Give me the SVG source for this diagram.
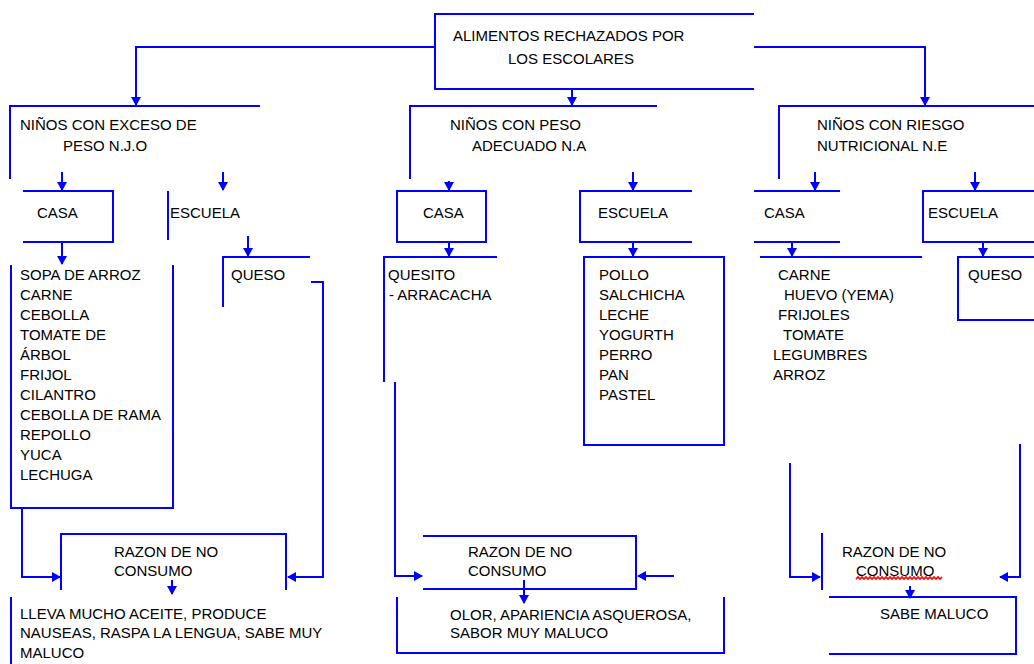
<svg xmlns="http://www.w3.org/2000/svg" width="1034" height="664" viewBox="0 0 1034 664">
<style>
.ln{fill:none;stroke:#0000ff;stroke-width:2}
.t{font-family:"Liberation Sans",Arial,sans-serif;font-size:15px;fill:#000}
</style>
<defs>
<marker id="ah" markerUnits="userSpaceOnUse" markerWidth="10" markerHeight="10" refX="8" refY="5" orient="auto">
<path d="M0,0 L9,5 L0,10 Z" fill="#0000ff"/>
</marker>
</defs>
<rect width="1034" height="664" fill="#fff"/>
<g id="connectors" class="ln">
<path d="M435,47 H136 V105" marker-end="url(#ah)"/>
<path d="M754,47 H925 V105" marker-end="url(#ah)"/>
<path d="M572,89 V105" marker-end="url(#ah)"/>
<path d="M62,172 V190" marker-end="url(#ah)"/>
<path d="M223,172 V190" marker-end="url(#ah)"/>
<path d="M449,181 V190" marker-end="url(#ah)"/>
<path d="M633,172 V190" marker-end="url(#ah)"/>
<path d="M815,172 V190" marker-end="url(#ah)"/>
<path d="M975,172 V190" marker-end="url(#ah)"/>
<path d="M62,242 V264" marker-end="url(#ah)"/>
<path d="M248,236 V256" marker-end="url(#ah)"/>
<path d="M449,242 V256" marker-end="url(#ah)"/>
<path d="M633,242 V256" marker-end="url(#ah)"/>
<path d="M792,242 V256" marker-end="url(#ah)"/>
<path d="M983,242 V256" marker-end="url(#ah)"/>
<path d="M22,509 V577 H60" marker-end="url(#ah)"/>
<path d="M311,282 H323 V577 H288" marker-end="url(#ah)"/>
<path d="M172,580 V594" marker-end="url(#ah)"/>
<path d="M395,382 V576 H422" marker-end="url(#ah)"/>
<path d="M674,576 H638" marker-end="url(#ah)"/>
<path d="M524,580 V603" marker-end="url(#ah)"/>
<path d="M790,463 V577 H820" marker-end="url(#ah)"/>
<path d="M1020,444 V577 H1000" marker-end="url(#ah)"/>
<path d="M910,586 V598" marker-end="url(#ah)"/>
</g>
<g id="root">
<path class="ln" d="M754,14 H435 V89 H754"/>
<text class="t" x="453" y="41">ALIMENTOS RECHAZADOS POR</text>
<text class="t" x="508" y="64">LOS ESCOLARES</text>
</g>
<g id="exceso">
<path class="ln" d="M260,106 H10 V179"/>
<text class="t" x="20" y="130">NIÑOS CON EXCESO DE</text>
<text class="t" x="63" y="151">PESO N.J.O</text>
</g>
<g id="adecuado">
<path class="ln" d="M657,106 H410 V179"/>
<text class="t" x="450" y="130">NIÑOS CON PESO</text>
<text class="t" x="472" y="151">ADECUADO N.A</text>
</g>
<g id="riesgo">
<path class="ln" d="M1034,106 H779 V179"/>
<text class="t" x="817" y="130">NIÑOS CON RIESGO</text>
<text class="t" x="817" y="151">NUTRICIONAL N.E</text>
</g>
<g id="casa1">
<path class="ln" d="M23,191 H113 V242 H23"/>
<text class="t" x="37" y="218">CASA</text>
</g>
<g id="escuela1">
<path class="ln" d="M168,191 V240"/>
<text class="t" x="170" y="218">ESCUELA</text>
</g>
<g id="casa2">
<rect class="ln" x="397" y="191" width="89" height="51"/>
<text class="t" x="423" y="218">CASA</text>
</g>
<g id="escuela2">
<path class="ln" d="M692,191 H580 V242 H692"/>
<text class="t" x="598" y="218">ESCUELA</text>
</g>
<g id="casa3">
<path class="ln" d="M754,191 H840 M754,242 H840"/>
<text class="t" x="764" y="218">CASA</text>
</g>
<g id="escuela3">
<path class="ln" d="M1034,191 H923 V242 H1034"/>
<text class="t" x="928" y="218">ESCUELA</text>
</g>
<g id="lista-casa1">
<path class="ln" d="M11,265 V508 H173 V265"/>
<text class="t" x="20" y="280">SOPA DE ARROZ</text>
<text class="t" x="20" y="300">CARNE</text>
<text class="t" x="20" y="320">CEBOLLA</text>
<text class="t" x="20" y="340">TOMATE DE</text>
<text class="t" x="20" y="360">ÁRBOL</text>
<text class="t" x="20" y="380">FRIJOL</text>
<text class="t" x="20" y="400">CILANTRO</text>
<text class="t" x="20" y="420">CEBOLLA DE RAMA</text>
<text class="t" x="20" y="440">REPOLLO</text>
<text class="t" x="20" y="460">YUCA</text>
<text class="t" x="20" y="480">LECHUGA</text>
</g>
<g id="queso1">
<path class="ln" d="M310,257 H223 V307"/>
<text class="t" x="231" y="280">QUESO</text>
</g>
<g id="lista-casa2">
<path class="ln" d="M497,257 H384 V382"/>
<text class="t" x="388" y="280">QUESITO</text>
<text class="t" x="389" y="300">- ARRACACHA</text>
</g>
<g id="lista-escuela2">
<rect class="ln" x="584" y="257" width="140" height="188"/>
<text class="t" x="599" y="280">POLLO</text>
<text class="t" x="599" y="300">SALCHICHA</text>
<text class="t" x="599" y="320">LECHE</text>
<text class="t" x="599" y="340">YOGURTH</text>
<text class="t" x="599" y="360">PERRO</text>
<text class="t" x="599" y="380">PAN</text>
<text class="t" x="599" y="400">PASTEL</text>
</g>
<g id="lista-casa3">
<path class="ln" d="M760,257 H922"/>
<text class="t" x="778" y="280">CARNE</text>
<text class="t" x="784" y="300">HUEVO (YEMA)</text>
<text class="t" x="778" y="320">FRIJOLES</text>
<text class="t" x="783" y="340">TOMATE</text>
<text class="t" x="773" y="360">LEGUMBRES</text>
<text class="t" x="773" y="380">ARROZ</text>
</g>
<g id="queso3">
<path class="ln" d="M1034,257 H958 V320 H1034"/>
<text class="t" x="968" y="280">QUESO</text>
</g>
<g id="razon1">
<path class="ln" d="M61,590 V534 H286 V590"/>
<text class="t" x="114" y="557">RAZON DE NO</text>
<text class="t" x="114" y="576">CONSUMO</text>
</g>
<g id="razon2">
<path class="ln" d="M423,536 H636 V589 H423"/>
<text class="t" x="468" y="557">RAZON DE NO</text>
<text class="t" x="468" y="576">CONSUMO</text>
</g>
<g id="razon3">
<path class="ln" d="M822,533 V590"/>
<text class="t" x="842" y="557">RAZON DE NO</text>
<text class="t" x="856" y="576">CONSUMO</text>
<path d="M856,579 l2,-2 l2,2 l2,-2 l2,2 l2,-2 l2,2 l2,-2 l2,2 l2,-2 l2,2 l2,-2 l2,2 l2,-2 l2,2 l2,-2 l2,2 l2,-2 l2,2 l2,-2 l2,2 l2,-2 l2,2 l2,-2 l2,2 l2,-2 l2,2 l2,-2 l2,2 l2,-2 l2,2 l2,-2 l2,2 l2,-2 l2,2 l2,-2 l2,2 l2,-2 l2,2 l2,-2 l2,2 l2,-2 l2,2 l2,-2" fill="none" stroke="#ff0000" stroke-width="1.6"/>
</g>
<g id="motivo1">
<path class="ln" d="M11,597 V664"/>
<text class="t" x="20" y="619">LLEVA MUCHO ACEITE, PRODUCE</text>
<text class="t" x="20" y="638">NAUSEAS, RASPA LA LENGUA, SABE MUY</text>
<text class="t" x="20" y="658">MALUCO</text>
</g>
<g id="motivo2">
<path class="ln" d="M397,597 V653 H724 V597"/>
<text class="t" x="450" y="620">OLOR, APARIENCIA ASQUEROSA,</text>
<text class="t" x="450" y="638">SABOR MUY MALUCO</text>
</g>
<g id="motivo3">
<path class="ln" d="M829,597 H1016 V654 H829"/>
<text class="t" x="880" y="619">SABE MALUCO</text>
</g>
</svg>
